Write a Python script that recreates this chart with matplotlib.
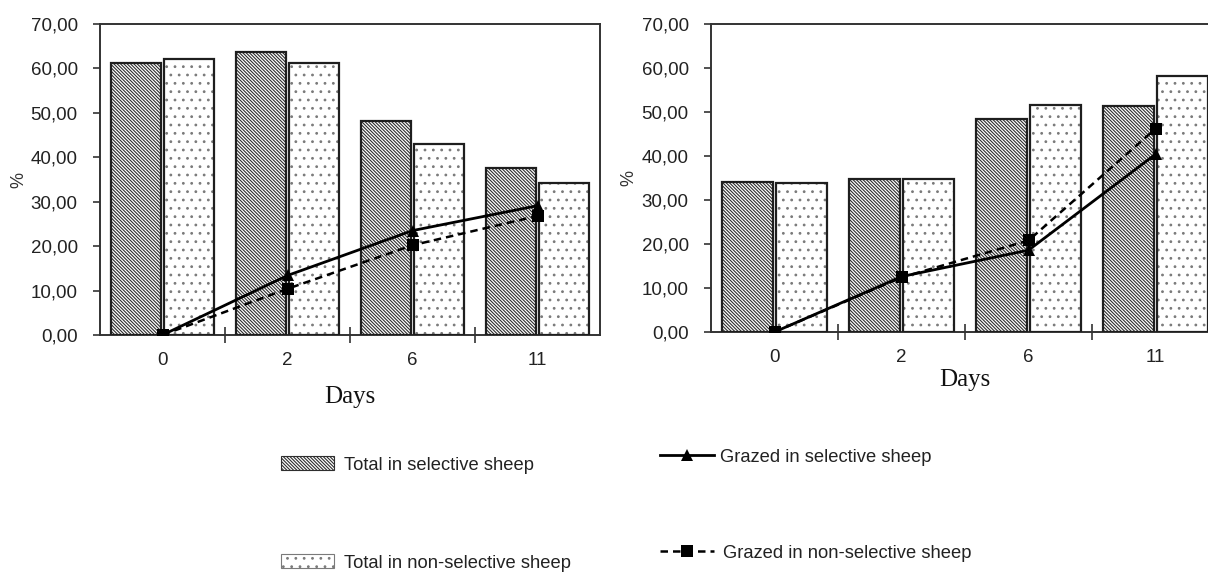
import matplotlib
matplotlib.use("Agg")
import matplotlib.pyplot as plt
from matplotlib import font_manager
from matplotlib.patches import Patch
from matplotlib.lines import Line2D
from matplotlib.ticker import FixedLocator, FuncFormatter
import numpy as np

# ---- data ----
days = ["0", "2", "6", "11"]

# left panel
left_total_selective = [61.2, 63.6, 48.2, 37.6]
left_total_nonselective = [62.2, 61.3, 43.0, 34.3]
left_grazed_selective = [0.0, 13.4, 23.5, 29.1]
left_grazed_nonselective = [0.0, 10.4, 20.2, 26.8]

# right panel
right_total_selective = [34.2, 34.7, 48.3, 51.3]
right_total_nonselective = [33.9, 34.7, 51.5, 58.2]
right_grazed_selective = [0.0, 12.6, 18.6, 40.4]
right_grazed_nonselective = [0.0, 12.4, 20.8, 46.2]

legend_labels = ["Total in selective sheep", "Total in non-selective sheep",
                 "Grazed in selective sheep", "Grazed in non-selective sheep"]

# ---- style ----
W, H = 1208, 572
DPI = 100
plt.rcParams["hatch.linewidth"] = 0.8


def has_font(name):
    try:
        font_manager.findfont(font_manager.FontProperties(family=name),
                              fallback_to_default=False)
        return True
    except Exception:
        return False


SANS = "Liberation Sans"
SERIF = "Liberation Serif"
if has_font("Liberation Sans Narrow"):
    LEG_FONT, LEG_SIZE = "Liberation Sans Narrow", 16
else:
    LEG_FONT, LEG_SIZE = SANS, 13.2

TICK_SIZE = 13.5
EDGE = "#1e1e1e"
HATCH_COL = "#2e2e2e"
DOT_COL = "#7a7a7a"
HATCH_DIAG = "\\" * 10
HATCH_DOTS = ".."

fig = plt.figure(figsize=(W / DPI, H / DPI), dpi=DPI)


def px_axes(x0, y_top, x1, y_bottom):
    return fig.add_axes([x0 / W, 1 - y_bottom / H, (x1 - x0) / W, (y_bottom - y_top) / H])


def draw_panel(ax, tot_sel, tot_non, gr_sel, gr_non, days_label_y, pct_x):
    x = np.arange(len(days))
    bw, off = 0.40, 0.215
    # hatched / dotted fills
    ax.bar(x - off, tot_sel, bw, color="white", edgecolor=HATCH_COL,
           hatch=HATCH_DIAG, linewidth=0, zorder=2)
    ax.bar(x + off, tot_non, bw, color="white", edgecolor=DOT_COL,
           hatch=HATCH_DOTS, linewidth=0, zorder=2)
    # outlines
    ax.bar(x - off, tot_sel, bw, fill=False, edgecolor=EDGE, linewidth=1.6, zorder=3)
    ax.bar(x + off, tot_non, bw, fill=False, edgecolor=EDGE, linewidth=1.6, zorder=3)
    # grazed lines
    ax.plot(x, gr_sel, color="black", linewidth=2.0, marker="^", markersize=9,
            markeredgewidth=0, zorder=4)
    ax.plot(x, gr_non, color="black", linewidth=1.8, linestyle=(0, (3.0, 2.0)),
            marker="s", markersize=8, markeredgewidth=0, zorder=5)

    ax.set_xlim(-0.5, len(days) - 0.5)
    ax.set_ylim(0, 70)
    ax.yaxis.set_major_locator(FixedLocator(np.arange(0, 71, 10)))
    ax.yaxis.set_major_formatter(FuncFormatter(lambda v, p: f"{v:.2f}".replace(".", ",")))
    ax.set_xticks(x)
    ax.set_xticklabels(days)
    ax.xaxis.set_minor_locator(FixedLocator(x[:-1] + 0.5))
    ax.tick_params(axis="x", which="major", length=0, pad=12, labelsize=TICK_SIZE,
                   labelcolor="#222222")
    ax.tick_params(axis="x", which="minor", direction="inout", length=11, width=1.2,
                   color="#333333")
    ax.tick_params(axis="y", which="major", direction="out", length=5, width=1.2,
                   pad=11, labelsize=TICK_SIZE, labelcolor="#222222", color="#333333")
    for lab in ax.get_xticklabels() + ax.get_yticklabels():
        lab.set_fontfamily(SANS)
    for sp in ax.spines.values():
        sp.set_linewidth(1.4)
        sp.set_color("#333333")
    ax.set_ylabel("%", fontfamily=SANS, fontsize=13, color="#333333")
    ax.yaxis.set_label_coords(pct_x, 0.5, transform=ax.transAxes)
    ax.set_xlabel("Days", fontfamily=SERIF, fontsize=18, color="#111111")
    ax.xaxis.set_label_coords(0.5, days_label_y, transform=ax.transAxes)


ax1 = px_axes(100, 24, 600, 335)
draw_panel(ax1, left_total_selective, left_total_nonselective,
           left_grazed_selective, left_grazed_nonselective, -0.165, -0.145)

ax2 = px_axes(711, 24, 1219, 332)
draw_panel(ax2, right_total_selective, right_total_nonselective,
           right_grazed_selective, right_grazed_nonselective, -0.12, -0.145)

# ---- legend entries, placed individually ----
em = LEG_SIZE * DPI / 72.0
handles = [
    Patch(facecolor="white", edgecolor=HATCH_COL, hatch=HATCH_DIAG, linewidth=0.8),
    Patch(facecolor="white", edgecolor=DOT_COL, hatch=HATCH_DOTS, linewidth=0.8),
    Line2D([], [], color="black", linewidth=2.0, marker="^", markersize=9,
           markeredgewidth=0),
    Line2D([], [], color="black", linewidth=1.8, linestyle=(0, (3.0, 2.0)),
           marker="s", markersize=8, markeredgewidth=0),
]
# (left x of handle in px, centre y in px, handle width px, gap px)
placements = [(281, 465, 53, 10), (281, 563, 53, 10), (660, 457, 54, 6), (660, 553, 54, 9)]
for h, lab, (xp, yp, hw, gap) in zip(handles, legend_labels, placements):
    fig.legend(handles=[h], labels=[lab], loc="center left",
               bbox_to_anchor=(xp / W, 1 - yp / H), frameon=False,
               borderpad=0, borderaxespad=0, numpoints=1,
               handlelength=hw / em, handleheight=14 / em,
               handletextpad=gap / em,
               prop={"family": LEG_FONT, "size": LEG_SIZE})
for leg in fig.legends:
    for t in leg.get_texts():
        t.set_color("#222222")

fig.savefig("out.png", dpi=DPI)
